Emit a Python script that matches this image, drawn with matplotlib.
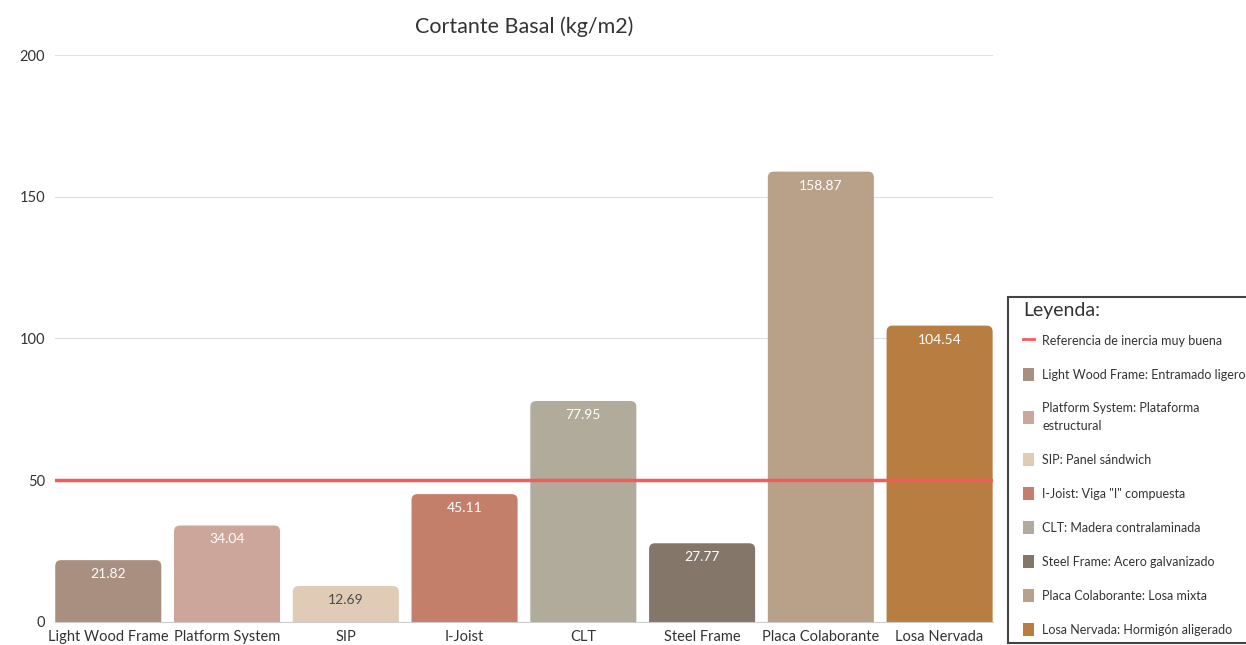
import matplotlib.pyplot as plt
import numpy as np
from matplotlib.patches import Patch, FancyBboxPatch, Rectangle
from matplotlib.lines import Line2D
from matplotlib.colors import to_rgb

plt.rcParams['font.family'] = ['Lato', 'DejaVu Sans']

categories = ["Light Wood Frame", "Platform System", "SIP", "I-Joist", "CLT",
              "Steel Frame", "Placa Colaborante", "Losa Nervada"]
values = [21.82, 34.04, 12.69, 45.11, 77.95, 27.77, 158.87, 104.54]
colors = ["#A98F7F", "#CDA69B", "#E0CBB6", "#C47F6B", "#B0AB9A",
          "#85766A", "#B8A089", "#B87D40"]
legend_labels = ["Light Wood Frame: Entramado ligero",
                 "Platform System: Plataforma\nestructural",
                 "SIP: Panel sándwich",
                 "I-Joist: Viga \"I\" compuesta",
                 "CLT: Madera contralaminada",
                 "Steel Frame: Acero galvanizado",
                 "Placa Colaborante: Losa mixta",
                 "Losa Nervada: Hormigón aligerado"]
reference = 50
ref_label = "Referencia de inercia muy buena"

fig = plt.figure(figsize=(12.46, 6.45), dpi=100)
ax = fig.add_axes([0.044, 0.0357, 0.753, 0.879])

x = np.arange(len(categories))
w = 0.893
ax.set_xlim(-0.45, len(categories) - 0.55)
ax.set_ylim(0, 200)

# bars with rounded top corners (bottom part hidden below the axis)
aspect = (200 / 567) / ((len(categories) - 0.1) / 938)
for xi, v, c in zip(x, values, colors):
    p = FancyBboxPatch((xi - w / 2, -10), w, v + 10,
                       boxstyle="round,pad=0,rounding_size=0.05",
                       mutation_aspect=aspect, facecolor=c, edgecolor="none",
                       zorder=2, clip_on=True)
    ax.add_patch(p)
    lum = np.dot(to_rgb(c), [0.299, 0.587, 0.114])
    ax.text(xi, v - 2.8, f"{v:.2f}", ha="center", va="top",
            color="#4a4a4a" if lum > 0.8 else "white", fontsize=10, zorder=3)

ax.axhline(reference, color="#F45B5B", lw=2.5, zorder=4)

ax.set_yticks([0, 50, 100, 150, 200])
ax.set_xticks(x)
ax.set_xticklabels(categories, fontsize=10.5, color="#333333")
ax.tick_params(axis="y", labelsize=10.5, colors="#333333", length=0, pad=7)
ax.tick_params(axis="x", length=0, pad=5.5)
ax.grid(axis="y", color="#E0E0E0", lw=0.8, zorder=0)
for s in ["top", "right", "left"]:
    ax.spines[s].set_visible(False)
ax.spines["bottom"].set_color("#CCCCCC")
ax.spines["bottom"].set_zorder(5)
ax.set_title("Cortante Basal (kg/m2)", fontsize=15.5, color="#333333", pad=16)

# legend box drawn by hand, runs off the right edge like the original
W, H = 1246, 645
fig.patches.append(Rectangle((1008 / W, 1 - 643 / H), 260 / W, 346 / H,
                             transform=fig.transFigure, facecolor="white",
                             edgecolor="#444444", lw=1.5, zorder=0))
fig.text(1023 / W, 1 - 311 / H, "Leyenda:", fontsize=14, color="#333333",
         va="center", ha="left")

handles = [Line2D([0], [0], color="#F45B5B", lw=2)]
handles += [Patch(facecolor=c) for c in colors]
leg = fig.legend(handles, [ref_label] + legend_labels, loc="upper left",
                 bbox_to_anchor=(1023 / W, 1 - 334 / H), borderaxespad=0,
                 fontsize=9, frameon=False, labelspacing=1.7,
                 handlelength=0.9, handleheight=1.2, handletextpad=0.65,
                 borderpad=0, labelcolor="#333333")
for t in leg.get_texts():
    t.set_linespacing(1.55)

fig.savefig("out.png", dpi=100)
